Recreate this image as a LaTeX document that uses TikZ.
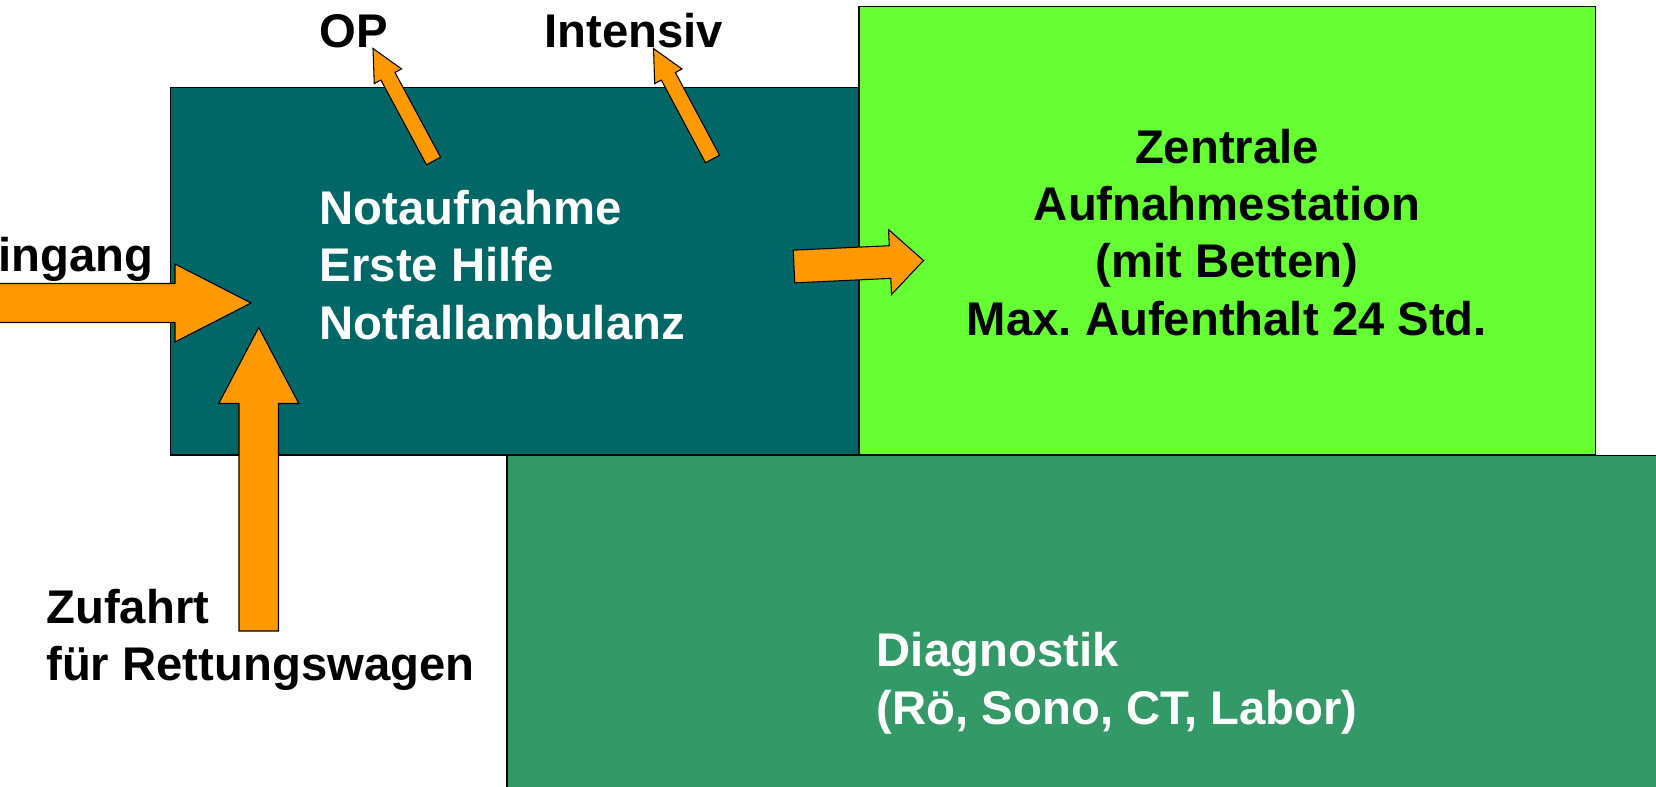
\documentclass[tikz,border=0pt]{standalone}
\usepackage{fontspec}
\setmainfont{Liberation Sans}
\usetikzlibrary{calc}
\definecolor{notteal}{HTML}{006666}
\definecolor{zaslime}{HTML}{66FF33}
\definecolor{diagreen}{HTML}{339966}
\definecolor{arroworange}{HTML}{FF9900}
\tikzset{
	roomtext/.style={inner sep=0pt, font=\fontsize{26.9}{32.6}\selectfont\bfseries},
	orangearrow/.style={draw=black, line width=0.6pt, fill=arroworange, line join=miter},
	roombox/.style={draw=black, line width=0.8pt}
}
\def\fatarrow(#1)(#2:#3)(#4:#5:#6){\draw[orangearrow, shift={(#1)}, rotate=#2] (0,-#4) -- ({#3-#6},-#4) -- ({#3-#6},-#5) -- (#3,0) -- ({#3-#6},#5) -- ({#3-#6},#4) -- (0,#4) -- cycle;}

\begin{document}
\begin{tikzpicture}
			%%%%% START %%%%%
			
			\useasboundingbox (0,0) rectangle (33.12,15.72);
			\clip (0,0) rectangle (33.12,15.72);
			
			\draw[roombox, fill=notteal] (3.41,6.62) rectangle (17.18,13.97);
			\draw[roombox, fill=zaslime] (17.18,6.62) rectangle (31.91,15.59);
			\draw[roombox, fill=diagreen] (10.14,6.61) rectangle (33.6,-0.5);
			
			\fatarrow(-0.5,9.66)(0:5.52)(0.39:0.78:1.52)
			\fatarrow(5.175,3.10)(90:6.07)(0.395:0.80:1.52)
			\fatarrow(8.67,12.50)(118.27:2.555)(0.16:0.31:0.63)
			\fatarrow(14.25,12.54)(118.1:2.505)(0.16:0.31:0.63)
			\fatarrow(15.88,10.39)(2.65:2.593)(0.327:0.65:0.67)
			
			% base anchor sits on the last line
			\node[roomtext, anchor=base west] (op) at (6.39,14.77) {OP};
			\node[roomtext, anchor=base west] (intensiv) at (10.88,14.77) {Intensiv};
			\node[roomtext, anchor=base east] (eingang) at (3.08,10.29) {Eingang};
			
			\node[roomtext, text=white, align=left, anchor=base west] (notaufnahme) at (6.39,8.94) {Notaufnahme\\Erste Hilfe\\Notfallambulanz};
			\node[roomtext, align=center, anchor=base] (zentrale) at (24.54,9.02) {Zentrale\\Aufnahmestation\\(mit Betten)\\Max.\ Aufenthalt 24 Std.};
			\node[roomtext, align=left, anchor=base west] (zufahrt) at (0.92,2.11) {Zufahrt\\für Rettungswagen};
			\node[roomtext, text=white, align=left, anchor=base west] (diagnostik) at (17.53,1.24) {Diagnostik\\(Rö, Sono, CT, Labor)};
			
			%%%%% END %%%%%
\end{tikzpicture}
\end{document}
